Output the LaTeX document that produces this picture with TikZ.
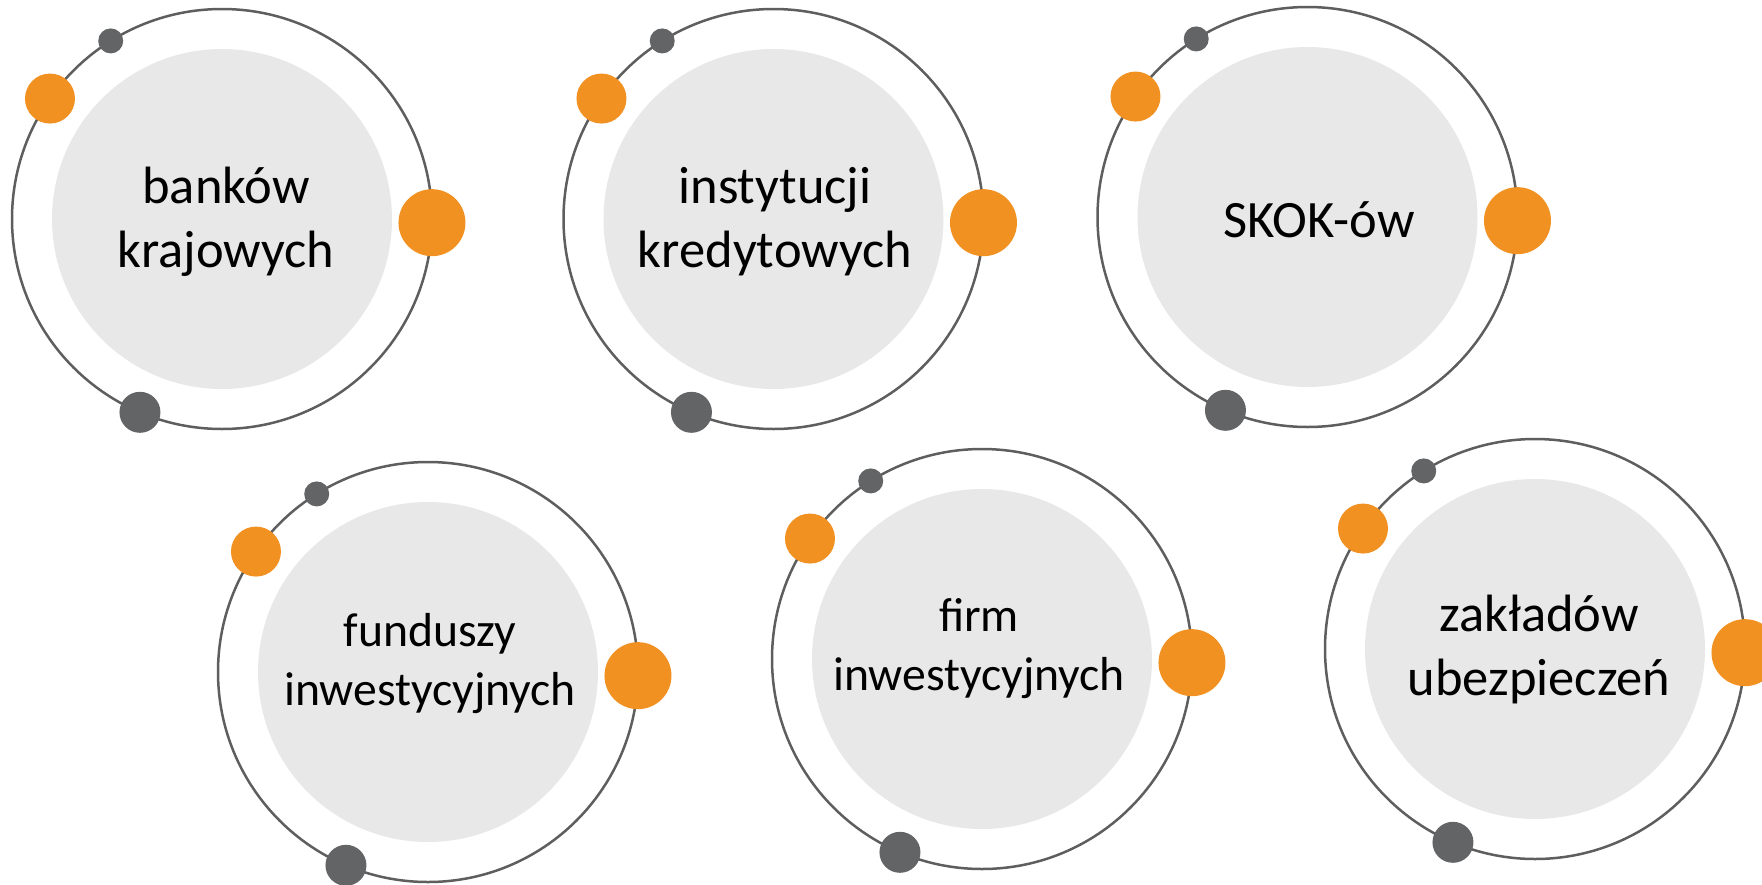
\documentclass[tikz,border=0pt]{standalone}
\usepackage{fontspec}
\setmainfont{Carlito}
\definecolor{ringgray}{HTML}{5E5E5E}
\definecolor{dotgray}{HTML}{636466}
\definecolor{dotorange}{HTML}{F19122}
\definecolor{discgray}{HTML}{E8E8E8}

% one orbit unit: grey disc, thin ring and four satellite dots
\newcommand\orbitunit[3]{%
  \node[disc]  (#1d) at (#2,#3) {};
  \node[orbit] (#1)  at (#2,#3) {};
  \node[smallorange] (#1so) at (#1.145.5) {};
  \node[smallgray]   (#1sg) at (#1.122.5) {};
  \node[biggray]     (#1bg) at (#1.247.3) {};
  \node[bigorange]   (#1bo) at (#1.-1.8) {};
}

\begin{document}
\begin{tikzpicture}[x=1pt,y=-1pt,
  orbit/.style={circle, draw=ringgray, line width=2.5pt, minimum size=420pt, inner sep=0pt, outer sep=0pt},
  disc/.style={circle, fill=discgray, minimum size=340pt, inner sep=0pt},
  bigorange/.style={circle, fill=dotorange, minimum size=67pt, inner sep=0pt},
  smallorange/.style={circle, fill=dotorange, minimum size=50pt, inner sep=0pt},
  smallgray/.style={circle, fill=dotgray, minimum size=25pt, inner sep=0pt},
  biggray/.style={circle, fill=dotgray, minimum size=41pt, inner sep=0pt},
  nametext/.style={anchor=base, align=center, font=\fontsize{52.5}{64}\selectfont, text=black, inner sep=0pt},
  smalltext/.style={nametext, font=\fontsize{47.7}{58.5}\selectfont},
]
\useasboundingbox (0,0) rectangle (1762,884);

\orbitunit{o1}{222}{219}
\orbitunit{o2}{773.5}{219}
\orbitunit{o3}{1307.5}{217}
\orbitunit{o4}{428}{672}
\orbitunit{o5}{982}{659}
\orbitunit{o6}{1535}{649}

% labels are placed by the baseline of their last line
\node[nametext]  (t1) at (226,267) {banków\\krajowych};
\node[nametext]  (t2) at (775,267) {instytucji\\kredytowych};
\node[nametext]  (t3) at (1319,237) {SKOK-ów};
\node[smalltext] (t4) at (430,705) {funduszy\\inwestycyjnych};
\node[smalltext] (t5) at (979,690) {firm\\inwestycyjnych};
\node[nametext]  (t6) at (1539,695) {zakładów\\ubezpieczeń};
\end{tikzpicture}
\end{document}
